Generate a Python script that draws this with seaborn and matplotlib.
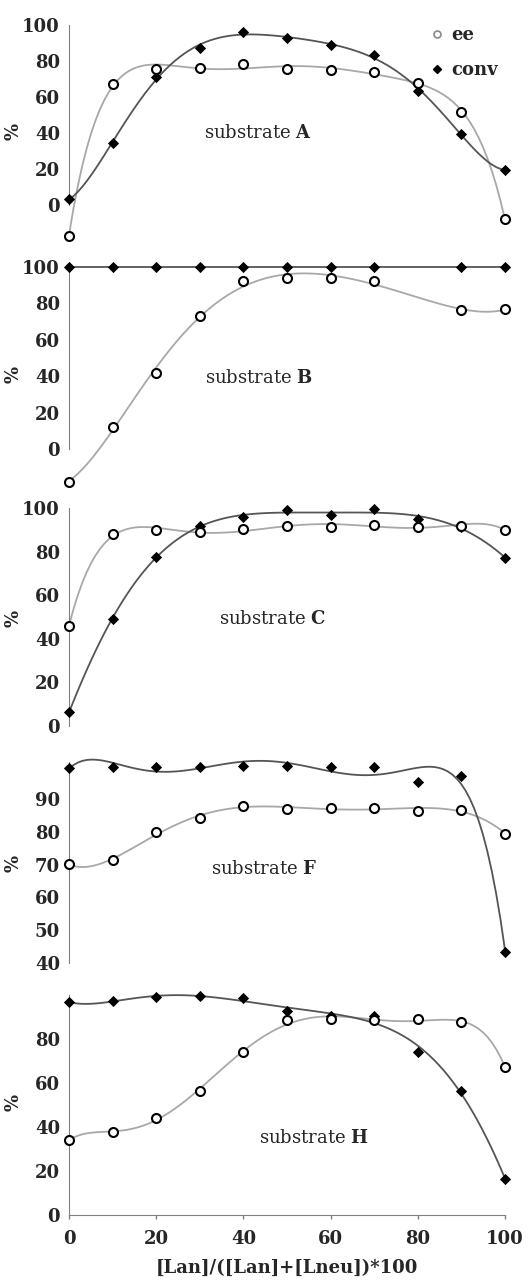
import numpy as np
import pandas as pd
import matplotlib
matplotlib.use("Agg")
import matplotlib.pyplot as plt
from matplotlib.lines import Line2D
import seaborn as sns

sns.set_style("white")
plt.rcParams["font.family"] = ["DejaVu Serif", "Liberation Serif"]
plt.rcParams["mathtext.fontset"] = "custom"
plt.rcParams["mathtext.rm"] = "DejaVu Serif"
plt.rcParams["mathtext.bf"] = "DejaVu Serif:bold"

# dados
x = [0, 10, 20, 30, 40, 50, 60, 70, 80, 90, 100]
ee_A = [-17, 67.4, 75.6, 76.3, 78.3, 75.6, 74.8, 74.0, 67.8, 51.9, -8]
conv_A = [3.1, 34.4, 71.1, 87.4, 96.1, 92.6, 89.0, 83.1, 63.3, 39.6, 19.3]
ee_B = [-17.9, 12.1, 41.7, 73.1, 92.1, 93.8, 93.8, 92.1, np.nan, 76.2, 76.6]
conv_B = [100, 100, 100, 100, 100, 100, 100, 100, np.nan, 100, 100]
ee_C = [45.9, 88.0, 89.9, 89.0, 90.4, 92.0, 91.3, 92.3, 91.6, 92.0, 90.2]
conv_C = [6.3, 49.3, 77.8, 91.9, 95.9, 99.2, 96.9, 99.5, 95.1, 91.3, 77.3]
ee_F = [70.1, 71.4, 79.9, 84.4, 88.0, 87.1, 87.3, 87.4, 86.5, 86.7, 79.5]
conv_F = [99.7, 99.9, 100, 100, 100.1, 100.1, 100, 99.9, 95.2, 97.1, 43.3]
ee_H = [34.1, 37.6, 44.2, 56.4, 74.1, 88.6, 88.9, 88.6, 89.1, 87.6, 67.4]
conv_H = [96.7, 97.4, 98.9, 99.7, 98.5, 92.9, 90.6, 90.5, 74.1, 56.2, 16.4]

substratos = ["A", "B", "C", "F", "H"]
series = {"A": (ee_A, conv_A), "B": (ee_B, conv_B), "C": (ee_C, conv_C),
          "F": (ee_F, conv_F), "H": (ee_H, conv_H)}

# layout de cada painel: (valor1, px1, valor2, px2, ylim, yticks, limites do eixo, pos do texto)
layout = {
    "A": (100, 25, 0, 205, (-20, 102), range(0, 101, 20), (0, 100), (43.3, 40)),
    "B": (100, 266.7, 0, 449, (-20, 102), range(0, 101, 20), (0, 100), (43.6, 39)),
    "C": (100, 508.3, 0, 726, (-3, 102), range(0, 101, 20), (0, 100), (46.8, 49)),
    "F": (90, 799.3, 40, 962.7, (38, 102.5), range(40, 91, 10), (40, 101.5), (44.7, 68.7)),
    "H": (80, 1039, 0, 1215, (0, 102), range(0, 81, 20), (0, 100), (56.2, 35)),
}

W, H = 530, 1283
fig = plt.figure(figsize=(W / 100, H / 100), dpi=100)
left_px, right_px = 55.9, 518.1
fs = 13
spine_c = "#808080"

for s in substratos:
    v1, p1, v2, p2, ylim, yt, bounds, tpos = layout[s]
    ppu = (p2 - p1) / (v1 - v2)
    top = p1 - (ylim[1] - v1) * ppu
    bot = p2 + (v2 - ylim[0]) * ppu
    ax = fig.add_axes([left_px / W, 1 - bot / H, (right_px - left_px) / W, (bot - top) / H])

    ee, conv = series[s]
    df = pd.DataFrame({"x": x, "ee": ee, "conv": conv})

    # linhas de tendencia (polinomio de ordem 6)
    sns.regplot(data=df, x="x", y="ee", order=6, ci=None, scatter=False, ax=ax,
                line_kws=dict(color="#a8a8a8", lw=1.3))
    sns.regplot(data=df, x="x", y="conv", order=6, ci=None, scatter=False, ax=ax,
                line_kws=dict(color="#555555", lw=1.3))
    # pontos
    sns.scatterplot(data=df, x="x", y="conv", marker="D", s=26, color="black",
                    edgecolor="black", linewidth=0.6, ax=ax, zorder=4, clip_on=False)
    sns.scatterplot(data=df, x="x", y="ee", marker="o", s=42, color="white",
                    edgecolor="black", linewidth=1.5, ax=ax, zorder=5, clip_on=False)

    ax.set_xlim(-3, 103)
    ax.set_ylim(*ylim)
    ax.set_yticks(list(yt))
    for side in ["top", "right"]:
        ax.spines[side].set_visible(False)
    ax.spines["left"].set_position(("data", 0))
    ax.spines["left"].set_bounds(*bounds)
    ax.spines["left"].set_color(spine_c)
    ax.tick_params(axis="y", direction="out", length=3.5, width=1, color=spine_c,
                   pad=3, labelsize=fs)
    for lab in ax.get_yticklabels():
        lab.set_fontweight("bold")
    ax.set_ylabel("%", fontsize=fs, fontweight="bold")
    ax.yaxis.set_label_coords((23 - left_px) / (right_px - left_px), 0.5)

    if s == "H":
        ax.spines["bottom"].set_position(("data", 0))
        ax.spines["bottom"].set_bounds(0, 100)
        ax.spines["bottom"].set_color(spine_c)
        ax.set_xticks([0, 20, 40, 60, 80, 100])
        ax.tick_params(axis="x", direction="out", length=3, width=1, color=spine_c,
                       pad=8, labelsize=fs, bottom=True)
        for lab in ax.get_xticklabels():
            lab.set_fontweight("bold")
        ax.set_xlabel("[Lan]/([Lan]+[Lneu])*100", fontsize=fs, fontweight="bold",
                      labelpad=8)
    else:
        ax.spines["bottom"].set_visible(False)
        ax.set_xticks([])
        ax.set_xlabel("")

    ax.text(tpos[0], tpos[1], "substrate $\\mathbf{" + s + "}$", fontsize=fs,
            ha="center", va="center")

    if s == "A":
        handles = [
            Line2D([], [], ls="none", marker="o", ms=5, mfc="white", mec="#888888", mew=1.2),
            Line2D([], [], ls="none", marker="D", ms=4.5, mfc="black", mec="black"),
        ]
        leg = ax.legend(handles, ["ee", "conv"], loc="upper left",
                        bbox_to_anchor=(0.79, 1.018), frameon=False, handlelength=0.8,
                        handletextpad=0.4, labelspacing=0.92, borderpad=0,
                        prop=dict(size=fs, weight="bold"))

fig.savefig("out.png", dpi=100)
